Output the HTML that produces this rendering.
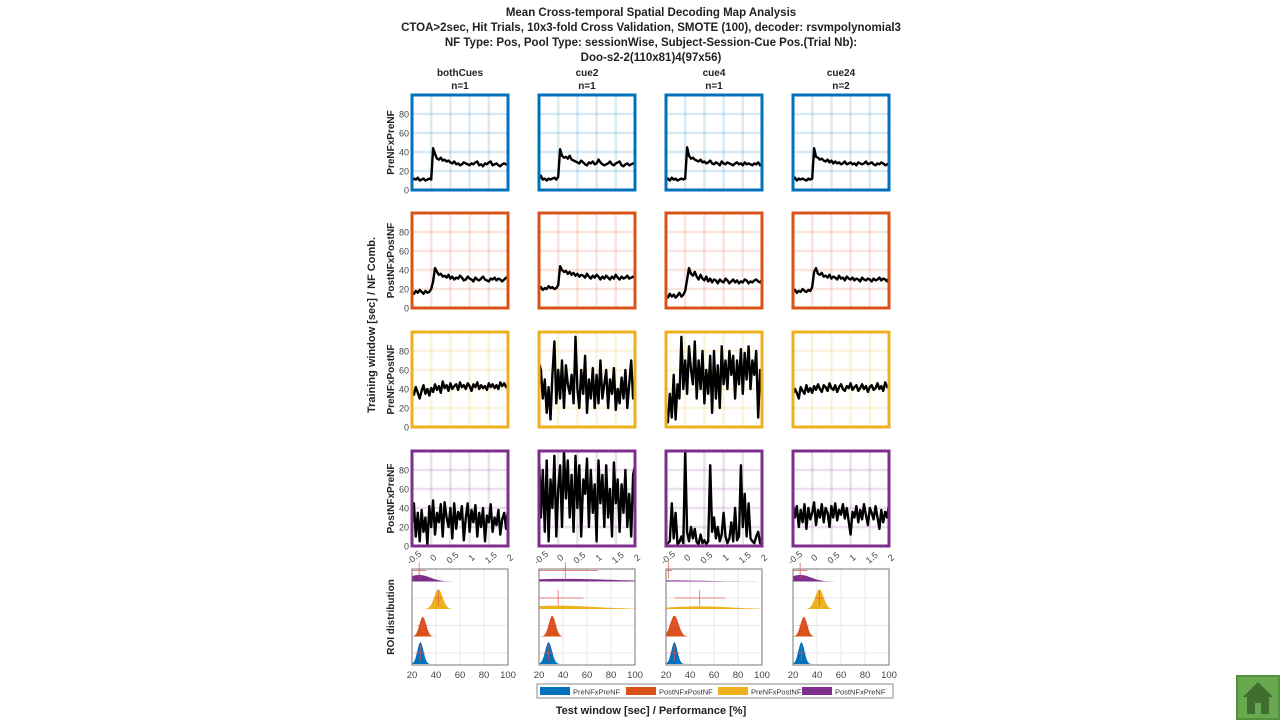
<!DOCTYPE html>
<html><head><meta charset="utf-8">
<style>
body{margin:0;background:#fff;width:1280px;height:720px;overflow:hidden;font-family:"Liberation Sans",Arial,sans-serif;}
svg{position:absolute;left:0;top:0}
</style></head>
<body>
<svg id="fig" width="1280" height="720" font-family="Liberation Sans, Arial, sans-serif">
  <g font-size="11.5" font-weight="bold" text-anchor="middle" fill="#222">
    <text x="651" y="16">Mean Cross-temporal Spatial Decoding Map Analysis</text>
    <text x="651" y="31">CTOA&gt;2sec, Hit Trials, 10x3-fold Cross Validation, SMOTE (100), decoder: rsvmpolynomial3</text>
    <text x="651" y="46">NF Type: Pos, Pool Type: sessionWise, Subject-Session-Cue Pos.(Trial Nb):</text>
    <text x="651" y="61">Doo-s2-2(110x81)4(97x56)</text>
  </g>
  <text transform="translate(375,325) rotate(-90)" font-size="11" font-weight="bold" text-anchor="middle" fill="#222">Training window [sec] / NF Comb.</text>
  <text x="651" y="714" font-size="11" font-weight="bold" text-anchor="middle" fill="#222">Test window [sec] / Performance [%]</text>
  <g id="panels"></g>
  <g id="legend"></g>
  <g>
    <rect x="1236" y="675" width="44" height="45" fill="#6aa84f"/>
    <rect x="1237" y="676" width="42" height="43" fill="none" stroke="#3d7a2a" stroke-width="1"/>
    <polygon points="1258,682 1243,697 1273,697" fill="#3f6e30"/>
    <rect x="1247" y="697" width="22" height="17" fill="#3f6e30"/>
    <rect x="1255" y="703" width="6" height="11" fill="#6aa84f"/>
  </g>
</svg>
<script>
const colNames = ["bothCues","cue2","cue4","cue24"];
const colN = ["n=1","n=1","n=1","n=2"];
const rowNames = ["PreNFxPreNF","PostNFxPostNF","PreNFxPostNF","PostNFxPreNF"];
const xTicks = [-0.5,0,0.5,1,1.5,2];
const xTickLabels = ["-0.5","0","0.5","1","1.5","2"];
const yTicks = [0,20,40,60,80];
const distTicks = [20,40,60,80,100];
// line series, 51 samples from -0.5 to 2 s
const r1c1=[10,12,11,13,10,11,12,10,11,12,11,44,38,33,32,34,31,32,30,31,29,28,30,27,28,26,27,29,28,27,26,28,27,29,30,26,27,25,28,27,29,30,26,27,28,26,25,27,28,27,26];
const r1c2=[11,15,11,12,10,12,11,12,13,11,14,43,36,34,35,33,36,32,31,30,29,28,31,29,27,26,29,28,30,27,28,32,29,27,26,27,28,30,27,26,28,29,30,26,25,27,28,26,27,28,29];
const r1c3=[11,12,10,13,11,12,10,11,12,11,12,45,36,33,34,32,31,30,32,29,30,28,29,31,28,27,29,28,26,30,28,27,29,28,27,26,28,29,27,28,26,29,27,28,27,26,28,27,29,26,28];
const r1c4=[11,13,10,12,11,12,11,10,12,11,12,44,35,34,32,33,31,30,32,29,31,28,30,28,29,27,28,30,27,28,29,27,28,26,29,28,27,28,30,27,28,29,27,26,28,27,29,28,26,27,28];
const r2c1=[17,15,18,16,19,17,15,18,16,17,20,28,42,38,35,36,33,34,32,35,31,33,30,32,31,34,32,29,30,33,31,30,28,32,30,29,31,33,30,29,28,31,30,32,29,31,30,28,30,32,31];
const r2c2=[20,22,19,21,20,23,21,22,20,21,24,44,40,38,39,36,38,35,37,34,36,33,35,34,32,36,33,31,34,32,35,33,30,33,31,34,32,30,33,31,35,32,30,33,31,32,34,31,32,33,31];
const r2c3=[13,11,15,12,14,11,13,16,12,14,18,30,42,36,34,38,33,30,35,31,29,33,28,31,27,30,29,26,30,28,27,31,29,26,28,30,27,29,26,28,27,30,29,26,28,27,29,30,28,27,30];
const r2c4=[17,19,16,18,17,20,18,17,19,18,22,38,42,36,35,37,33,34,32,35,31,33,32,30,34,31,32,29,33,31,30,32,29,31,30,28,32,30,29,31,30,28,31,29,30,32,29,31,30,28,32];
const r3c1=[38,34,42,36,30,38,44,35,40,33,41,37,45,39,43,36,48,41,44,38,46,40,43,45,39,47,42,44,40,46,43,38,45,42,47,40,44,41,43,39,46,42,45,41,44,40,47,43,46,42,45];
const r3c2=[68,60,30,50,15,42,8,55,90,25,60,30,70,20,65,45,35,55,25,95,40,20,60,35,75,15,50,30,62,20,55,25,70,30,45,60,20,50,35,62,18,40,25,52,30,60,20,45,70,30,48];
const r3c3=[15,5,35,10,55,8,45,30,95,40,70,35,85,60,45,90,30,70,40,80,25,60,35,75,15,80,30,65,20,85,45,70,40,80,55,75,30,70,45,82,35,78,50,85,40,70,55,80,10,60,50];
const r3c4=[34,40,36,30,42,38,35,44,37,41,36,43,39,45,40,37,44,42,38,46,41,39,44,37,42,45,40,38,43,41,46,39,42,44,38,41,45,40,43,37,42,44,39,41,46,40,43,38,47,42,44];
const r4c1=[20,45,10,35,5,38,15,30,2,42,20,48,12,35,25,44,10,46,30,20,40,8,45,18,36,28,42,6,30,45,15,38,25,43,10,35,20,40,5,32,25,44,15,30,22,38,12,28,35,18,40];
const r4c2=[100,30,80,15,90,5,70,40,95,10,60,85,20,100,50,90,30,75,15,95,40,85,10,70,55,92,20,80,35,65,5,90,45,75,20,85,30,60,10,88,45,70,15,65,35,80,20,55,10,75,85];
const r4c3=[2,3,5,45,8,35,2,4,10,3,100,15,5,20,8,18,4,2,12,3,6,2,5,85,15,30,8,20,5,12,35,10,3,8,25,5,40,6,10,85,20,55,10,45,8,5,3,10,15,3,2];
const r4c4=[45,30,42,20,38,25,44,18,40,28,35,46,22,38,30,44,25,40,35,20,42,30,45,27,38,33,44,29,40,26,12,36,30,42,25,38,28,44,32,22,40,35,28,42,30,18,38,25,36,30,44];
const lineData=[[r1c1,r1c2,r1c3,r1c4],[r2c1,r2c2,r2c3,r2c4],[r3c1,r3c2,r3c3,r3c4],[r4c1,r4c2,r4c3,r4c4]];
// ROI distributions per column, categories in order PreNFxPreNF, PostNFxPostNF, PreNFxPostNF, PostNFxPreNF
const distMean=[[27,29,42,26],[28,31,36,42],[27,27,48,22],[27,29,42,26]];
const distSd=[[2.5,2.8,3.5,9],[2.8,2.8,30,40],[2.5,3.5,25,30],[2.5,2.8,3.5,9]];
const distPeak=[[1,0.9,0.9,0.3],[1,0.95,0.15,0.12],[1,0.95,0.12,0.05],[1,0.9,0.9,0.3]];
const distErr=[[4,4,3,6],[4,4,21,27],[4,4,21,3],[4,4,3,6]];

const colors=["#0072BD","#D95319","#EDB120","#7E2F8E"];
const gridCols=["rgba(0,114,189,0.15)","rgba(217,83,25,0.15)","rgba(237,177,32,0.15)","rgba(126,47,142,0.15)"];
const X0=[412,539,666,793], W=96, Y0=[95,213,332,451], H=95;
const NS="http://www.w3.org/2000/svg";
const root=document.getElementById('panels');
function mk(tag,attrs,parent){const e=document.createElementNS(NS,tag);for(const k in attrs)e.setAttribute(k,attrs[k]);(parent||root).appendChild(e);return e;}
function xS(c,t){return X0[c]+(t+0.5)/2.5*W;}
function yS(r,v){return Y0[r]+H-v/100*H;}

for(let c=0;c<4;c++){
  const t1=mk('text',{x:X0[c]+W/2,y:76,'font-size':10,'font-weight':'bold','text-anchor':'middle',fill:'#222'});
  t1.textContent=colNames[c];
  
  
  const t2=mk('text',{x:X0[c]+W/2,y:89,'font-size':10,'font-weight':'bold','text-anchor':'middle',fill:'#222'});
  t2.textContent=colN[c];
  
  
}
for(let r=0;r<4;r++){
  const rl=mk('text',{transform:`translate(${394},${Y0[r]+H/2}) rotate(-90)`,'font-size':10,'font-weight':'bold','text-anchor':'middle',fill:'#222'});
  rl.textContent=rowNames[r];
  
  
  yTicks.forEach(v=>{
    const t=mk('text',{x:409,y:yS(r,v)+3.5,'font-size':9,'text-anchor':'end',fill:'#444'});
    t.textContent=v;
    
    
  });
  for(let c=0;c<4;c++){
    const g=mk('g',{});
    
    
    mk('rect',{x:X0[c],y:Y0[r],width:W,height:H,fill:'#fff'},g);
    xTicks.slice(1,-1).forEach(t=>mk('line',{x1:xS(c,t),x2:xS(c,t),y1:Y0[r],y2:Y0[r]+H,stroke:gridCols[r],'stroke-width':2.5},g));
    yTicks.slice(1).forEach(v=>mk('line',{x1:X0[c],x2:X0[c]+W,y1:yS(r,v),y2:yS(r,v),stroke:gridCols[r],'stroke-width':2.5},g));
    const d=lineData[r][c];
    const pts=d.map((v,i)=>`${xS(c,-0.5+i*2.5/(d.length-1)).toFixed(1)},${yS(r,v).toFixed(1)}`).join(' ');
    const pl=mk('polyline',{points:pts,fill:'none',stroke:'#000','stroke-width':2.4,'stroke-linejoin':'round'},g);
    
    
    mk('rect',{x:X0[c],y:Y0[r],width:W,height:H,fill:'none',stroke:colors[r],'stroke-width':3},g);
    if(r===3){
      xTicks.forEach((t,i)=>{
        const tx=mk('text',{transform:`translate(${xS(c,t)+4},${Y0[r]+H+14}) rotate(-40)`,'font-size':9,'text-anchor':'middle',fill:'#444'});
        tx.textContent=xTickLabels[i];
        
        
      });
    }
  }
}
// distribution panels
const DY=569, DH=96;
function dx(c,v){return X0[c]+(v-20)/80*W;}
function yC(k){return 680.5-(k+1)*27.5;}
const rl=mk('text',{transform:`translate(394,${DY+DH/2}) rotate(-90)`,'font-size':10,'font-weight':'bold','text-anchor':'middle',fill:'#222'});
rl.textContent='ROI distribution';


for(let c=0;c<4;c++){
  const g=mk('g',{});
  
  
  mk('rect',{x:X0[c],y:DY,width:W,height:DH,fill:'#fff'},g);
  distTicks.slice(1,-1).forEach(v=>mk('line',{x1:dx(c,v),x2:dx(c,v),y1:DY,y2:DY+DH,stroke:'#e8e8e8','stroke-width':1},g));
  for(let k=0;k<3;k++) mk('line',{x1:X0[c],x2:X0[c]+W,y1:yC(k),y2:yC(k),stroke:'#e8e8e8','stroke-width':1},g);
  for(let k=0;k<4;k++){
    const m=distMean[c][k], s=distSd[c][k], p=distPeak[c][k];
    const base=yC(k)+11;
    let pts=[];
    for(let i=0;i<=80;i++){
      const v=20+i;
      const h=22*p*Math.exp(-0.5*((v-m)/s)**2);
      pts.push(`${dx(c,v).toFixed(1)},${(base-h).toFixed(1)}`);
    }
    pts.push(`${dx(c,100)},${base}`,`${dx(c,20)},${base}`);
    const poly=mk('polygon',{points:pts.join(' '),fill:colors[k]},g);
    
    
    const e=distErr[c][k];
    const eb=mk('g',{stroke:'rgba(225,80,80,0.7)','stroke-width':1},g);
    
    
    mk('line',{x1:dx(c,Math.max(20,m-e)),x2:dx(c,Math.min(100,m+e)),y1:yC(k),y2:yC(k)},eb);
    mk('line',{x1:dx(c,m),x2:dx(c,m),y1:yC(k)-8,y2:yC(k)+8},eb);
  }
  mk('rect',{x:X0[c],y:DY,width:W,height:DH,fill:'none',stroke:'#777','stroke-width':1},g);
  distTicks.forEach(v=>{
    const t=mk('text',{x:dx(c,v),y:DY+DH+13,'font-size':9.5,'text-anchor':'middle',fill:'#444'});
    t.textContent=v;
    
    
  });
}
// legend
const lg=document.getElementById('legend');
mk('rect',{x:537,y:684,width:356,height:14,fill:'#fff',stroke:'#888','stroke-width':1},lg);
const sw=[540,626,718,802];
for(let k=0;k<4;k++){
  const e=mk('g',{},lg);
  
  
  mk('rect',{x:sw[k],y:687,width:30,height:8,fill:colors[k]},e);
  const t=mk('text',{x:sw[k]+33,y:694.5,'font-size':7.5,fill:'#333'},e);
  t.textContent=rowNames[k];
}
</script>
</body></html>
